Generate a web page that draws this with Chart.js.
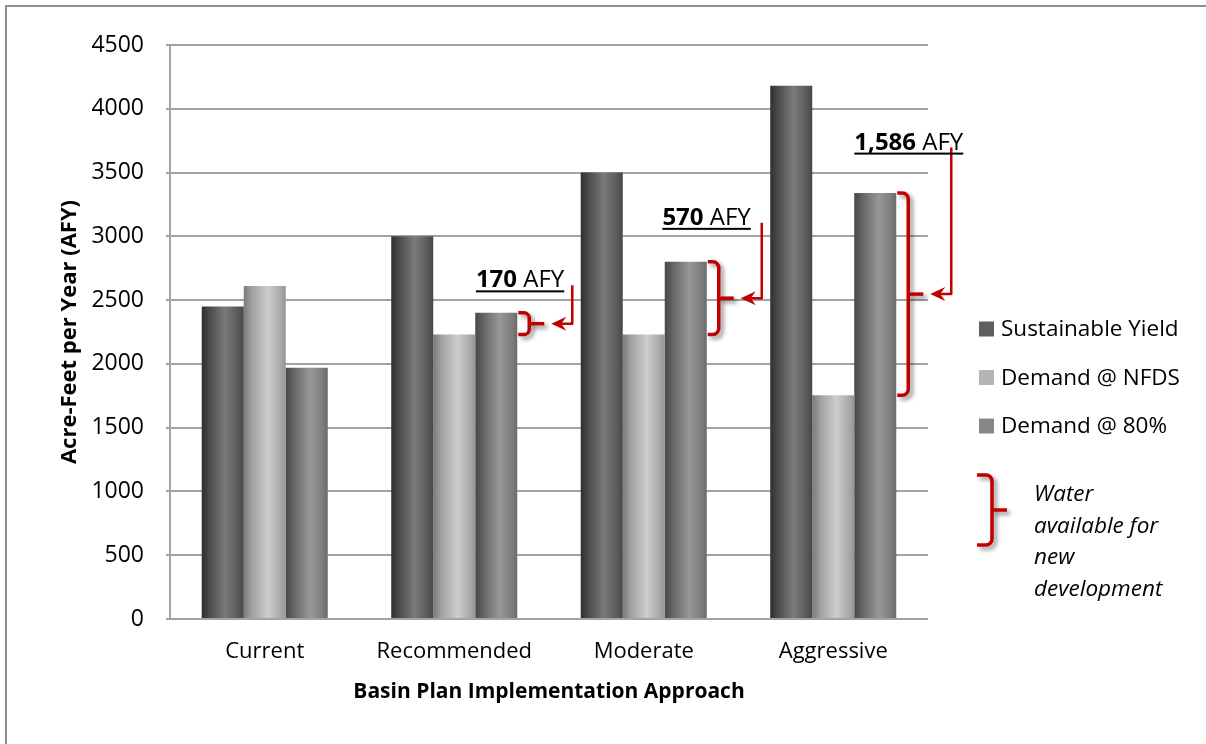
<!DOCTYPE html>
<html>
<head>
<meta charset="utf-8">
<title>Basin Plan Implementation Approach</title>
<script src="https://cdn.jsdelivr.net/npm/chart.js@4.4.1/dist/chart.umd.min.js"></script>
<style>
  html, body { margin: 0; background: #fff; overflow: hidden; }
  #wrap { position: relative; width: 1206px; height: 744px; overflow: hidden; }
  #frame { position: absolute; left: 5px; top: 5px; width: 1300px; height: 800px;
           border-top: 2px solid #8f8f8f; border-left: 2px solid #8f8f8f; }
  #chart { position: absolute; left: 0; top: 0; }
</style>
</head>
<body>
<div id="wrap">
  <div id="frame"></div>
  <canvas id="chart" width="1206" height="744"></canvas>
</div>
<script>
// Data (acre-feet per year)
const categories = ['Current', 'Recommended', 'Moderate', 'Aggressive'];
const seriesLabels = ['Sustainable Yield', 'Demand @ NFDS', 'Demand @ 80%'];
const sustainableYield = [2450, 3000, 3500, 4180];
const demandNFDS = [2610, 2230, 2230, 1754];
const demand80 = [1970, 2400, 2800, 3340];
const yMax = 4500;
const yStep = 500;

// Water available for new development (Demand @ 80% minus Demand @ NFDS)
const gapCategories = [1, 2, 3];
const gapLabels = ['170', '570', '1,586'];
const noteLines = ['Water', 'available for', 'new', 'development'];

// Callout layout (label baseline in axis units, label right edge relative to arrow line)
const calloutLabelY = [2600, 3090, 3680];
const calloutLabelDx = [-8, -11, 12];

const FONT = "'Open Sans', sans-serif";
const RED = '#c00000';
const CAT_PCT = 0.665;

// Shaded "cylinder" fills for the bars, flat colour used in the legend
const styles = [
  { flat: '#5f5f5f', stops: [[0, '#2e2e2e'], [0.18, '#4a4a4a'], [0.55, '#7a7a7a'], [0.85, '#5c5c5c'], [1, '#474747']] },
  { flat: '#b5b5b5', stops: [[0, '#7a7a7a'], [0.2, '#a2a2a2'], [0.58, '#cdcdcd'], [0.88, '#a8a8a8'], [1, '#959595']] },
  { flat: '#878787', stops: [[0, '#474747'], [0.2, '#666666'], [0.58, '#989898'], [0.88, '#7c7c7c'], [1, '#6a6a6a']] }
];

function cylinder(style) {
  return (c) => {
    const chart = c.chart;
    const xs = chart.scales.x;
    if (c.type !== 'data' || !xs || !xs.width) return style.flat;
    const n = chart.data.datasets.length;
    const cat = xs.width / categories.length;
    const w = cat * CAT_PCT / n;
    const left = xs.getPixelForValue(c.dataIndex) - cat * CAT_PCT / 2 + c.datasetIndex * w;
    const g = chart.ctx.createLinearGradient(left, 0, left + w, 0);
    style.stops.forEach(([o, col]) => g.addColorStop(o, col));
    return g;
  };
}

function brace(ctx, x0, xv, xn, yTop, yBot) {
  const ym = (yTop + yBot) / 2;
  const r = Math.min(6, (yBot - yTop) / 4);
  ctx.beginPath();
  ctx.moveTo(x0, yTop);
  ctx.arcTo(xv, yTop, xv, ym, r);
  ctx.lineTo(xv, yBot - r);
  ctx.arcTo(xv, yBot, x0, yBot, r);
  ctx.lineTo(x0, yBot);
  ctx.stroke();
  ctx.beginPath();
  ctx.moveTo(xv, ym);
  ctx.lineTo(xn, ym);
  ctx.stroke();
}

function underlinedLabel(ctx, bold, rest, rightX, baseY) {
  ctx.font = 'bold 24px ' + FONT;
  const wb = ctx.measureText(bold).width;
  ctx.font = '24px ' + FONT;
  const wr = ctx.measureText(rest).width;
  const x = rightX - wb - wr;
  ctx.fillStyle = '#000';
  ctx.textBaseline = 'alphabetic';
  ctx.textAlign = 'left';
  ctx.font = 'bold 24px ' + FONT;
  ctx.fillText(bold, x, baseY);
  ctx.font = '24px ' + FONT;
  ctx.fillText(rest, x + wb, baseY);
  ctx.fillRect(x, baseY + 3, wb + wr, 2);
}

const overlay = {
  id: 'overlay',
  afterDraw(chart) {
    const { ctx } = chart;
    const y = chart.scales.y;
    const metaNFDS = chart.getDatasetMeta(1);
    const meta80 = chart.getDatasetMeta(2);

    // legend
    ctx.save();
    chart.data.datasets.forEach((ds, i) => {
      const cy = 329 + i * 48.5;
      ctx.fillStyle = styles[i].flat;
      ctx.fillRect(979, cy - 7.5, 15, 15);
      ctx.fillStyle = '#000';
      ctx.font = '22.5px ' + FONT;
      ctx.textBaseline = 'middle';
      ctx.fillText(ds.label, 1001, cy + 1);
    });
    ctx.restore();

    // callouts: brace beside each Demand @ 80% bar down to the NFDS level
    ctx.save();
    ctx.lineCap = 'butt';
    ctx.lineJoin = 'round';
    gapCategories.forEach((cat, k) => {
      const bar = meta80.data[cat];
      const right = bar.x + bar.width / 2;
      const yTop = bar.y;
      const yBot = metaNFDS.data[cat].y;
      const ym = (yTop + yBot) / 2;

      ctx.save();
      ctx.strokeStyle = RED;
      ctx.shadowColor = 'rgba(0,0,0,0.45)';
      ctx.shadowBlur = 4;
      ctx.shadowOffsetX = 3;
      ctx.shadowOffsetY = 3;
      ctx.lineWidth = 3.5;
      brace(ctx, right + 1, right + 12, right + 27, yTop, yBot);
      ctx.restore();

      const lineX = right + 55;
      const tipX = right + 34;
      const baseY = y.getPixelForValue(calloutLabelY[k]);
      ctx.strokeStyle = RED;
      ctx.fillStyle = RED;
      ctx.lineWidth = 2.5;
      ctx.beginPath();
      ctx.moveTo(lineX, baseY - 2);
      ctx.lineTo(lineX, ym);
      ctx.lineTo(tipX + 8, ym);
      ctx.stroke();
      ctx.beginPath();
      ctx.moveTo(tipX, ym);
      ctx.lineTo(tipX + 15, ym - 7);
      ctx.lineTo(tipX + 10, ym);
      ctx.lineTo(tipX + 15, ym + 7);
      ctx.closePath();
      ctx.fill();

      underlinedLabel(ctx, gapLabels[k], ' AFY', lineX + calloutLabelDx[k], baseY);
    });

    // note next to the legend
    ctx.save();
    ctx.strokeStyle = RED;
    ctx.shadowColor = 'rgba(0,0,0,0.45)';
    ctx.shadowBlur = 4;
    ctx.shadowOffsetX = 3;
    ctx.shadowOffsetY = 3;
    ctx.lineWidth = 3.5;
    brace(ctx, 977, 992, 1007, 475, 545);
    ctx.restore();

    ctx.fillStyle = '#000';
    ctx.font = 'italic 22.5px ' + FONT;
    ctx.textBaseline = 'alphabetic';
    noteLines.forEach((t, i) => ctx.fillText(t, 1034, 501 + i * 31.5));
    ctx.restore();
  }
};

Chart.defaults.font.family = FONT;
Chart.defaults.color = '#000';

new Chart(document.getElementById('chart'), {
  type: 'bar',
  data: {
    labels: categories,
    datasets: [sustainableYield, demandNFDS, demand80].map((values, i) => ({
      label: seriesLabels[i],
      data: values,
      backgroundColor: cylinder(styles[i]),
      borderWidth: 0,
      barPercentage: 1,
      categoryPercentage: CAT_PCT
    }))
  },
  options: {
    responsive: false,
    animation: false,
    layout: { padding: { left: 44, top: 45, right: 278, bottom: 0 } },
    plugins: {
      legend: { display: false },
      tooltip: { enabled: false }
    },
    scales: {
      x: {
        grid: { display: false, drawTicks: false },
        border: { display: false },
        ticks: { color: '#000', font: { size: 22 }, padding: 20, maxRotation: 0 },
        title: {
          display: true,
          text: 'Basin Plan Implementation Approach',
          color: '#000',
          font: { size: 21, weight: 'bold' },
          padding: { top: 0, bottom: 39 }
        },
        afterFit: (s) => { s.height = 125; }
      },
      y: {
        min: 0,
        max: yMax,
        ticks: { stepSize: yStep, color: '#000', font: { size: 23 }, padding: 22, callback: (v) => String(v) },
        grid: { color: '#a3a3a3', lineWidth: 2, tickLength: 4 },
        border: { color: '#a3a3a3', width: 2 },
        title: {
          display: true,
          text: 'Acre-Feet per Year (AFY)',
          color: '#000',
          font: { size: 22, weight: 'bold' },
          padding: { top: 13, bottom: 0 }
        },
        afterFit: (s) => { s.width = 126; }
      }
    }
  },
  plugins: [overlay]
});
</script>
</body>
</html>
